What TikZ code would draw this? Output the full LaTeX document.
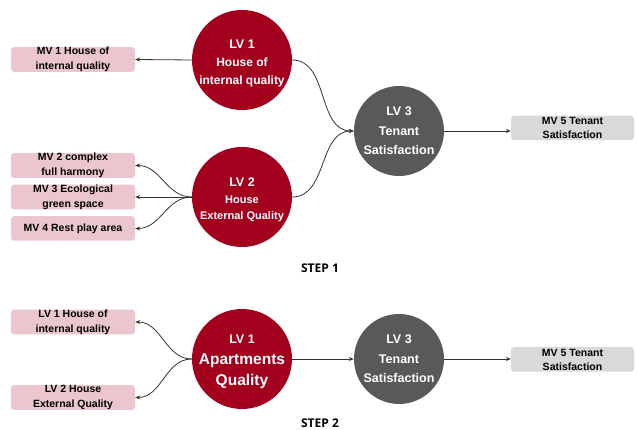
\documentclass[tikz,border=0pt]{standalone}
\usepackage{fontspec}
\setmainfont{Liberation Sans}
\newfontfamily\stepfont{Open Sans}
\usetikzlibrary{arrows.meta}
\definecolor{lvred}{HTML}{A2001D}
\definecolor{lvgrey}{HTML}{595959}
\definecolor{mvpink}{HTML}{EBC6CD}
\definecolor{mvgrey}{HTML}{D9D9D9}
\definecolor{arrowc}{HTML}{333333}
\tikzset{
  redlv/.style={circle, fill=lvred, minimum size=100pt, inner sep=0pt},
  lvtext/.style={inner sep=0pt, text=white, align=center},
  greylv/.style={circle, fill=lvgrey, minimum size=90pt, inner sep=0pt, text=white, align=center, font=\bfseries\fontsize{12.5}{19.5}\selectfont},
  pinkmv/.style={rectangle, rounded corners=3pt, fill=mvpink, minimum width=124pt, minimum height=24.5pt, inner sep=0pt, align=center, font=\bfseries\fontsize{10.5}{15}\selectfont},
  greymv/.style={rectangle, rounded corners=3pt, fill=mvgrey, minimum width=123pt, minimum height=24.5pt, inner sep=0pt, align=center, font=\bfseries\fontsize{10.5}{14}\selectfont},
  conn/.style={draw=arrowc, line width=0.8pt, -{Stealth[length=5pt,width=4pt]}},
  steplabel/.style={font=\stepfont\bfseries\fontsize{12}{14}\selectfont}
}
\begin{document}
\begin{tikzpicture}[x=1pt,y=-1pt]
\useasboundingbox (0,0) rectangle (638,430);
% STEP 1
\node[redlv] (lv1) at (242,60) {};
\node[lvtext, font=\bfseries\fontsize{12}{18}\selectfont] (lv1t) at ([yshift=-3pt]lv1.center) {{\fontsize{12.5}{18}\selectfont LV 1}\\House of\\internal quality};
\node[redlv] (lv2) at (242,197) {};
\node[lvtext, font=\bfseries\fontsize{11}{16}\selectfont] (lv2t) at ([yshift=-3pt]lv2.center) {{\fontsize{12.5}{17}\selectfont LV 2}\\[1pt]House\\External Quality};
\node[greylv] (lv3) at (399,131) {LV 3\\Tenant\\Satisfaction};
\node[pinkmv] (mv1) at (73,59.5) {MV 1 House of\\internal quality};
\node[pinkmv] (mv2) at (73,165.5) {MV 2 complex\\full harmony};
\node[pinkmv] (mv3) at (73,197) {MV 3 Ecological\\green space};
\node[pinkmv] (mv4) at (73,228.5) {MV 4 Rest play area};
\node[greymv] (mv5) at (572.5,128) {MV 5 Tenant\\Satisfaction};
\draw[conn] (lv1.west) -- (mv1.east);
\draw[conn] (lv2.west) to[out=180,in=0] (mv2.east);
\draw[conn] (lv2.west) -- (mv3.east);
\draw[conn] (lv2.west) to[out=180,in=0] (mv4.east);
\draw[conn] (lv1.east) to[out=0,in=180] (lv3.west);
\draw[conn] (lv2.east) to[out=0,in=180] (lv3.west);
\draw[conn] (lv3.east) -- (lv3.east -| mv5.west);
\node[steplabel] (s1) at (320,268) {STEP 1};
% STEP 2
\node[redlv] (alv1) at (242,359) {};
\node[lvtext, font=\bfseries\fontsize{15.5}{21}\selectfont] (alv1t) at ([yshift=-3pt]alv1.center) {{\fontsize{12.5}{20}\selectfont LV 1}\\Apartments\\Quality};
\node[greylv] (alv3) at (399,359) {LV 3\\Tenant\\Satisfaction};
\node[pinkmv] (alv1b) at (73,322) {LV 1 House of\\internal quality};
\node[pinkmv] (alv2b) at (73,397.5) {LV 2 House\\External Quality};
\node[greymv] (amv5) at (572.5,359.5) {MV 5 Tenant\\Satisfaction};
\draw[conn] (alv1.west) to[out=180,in=0] (alv1b.east);
\draw[conn] (alv1.west) to[out=180,in=0] (alv2b.east);
\draw[conn] (alv1.east) -- (alv3.west);
\draw[conn] (alv3.east) -- (alv3.east -| amv5.west);
\node[steplabel] (s2) at (320,423) {STEP 2};
\end{tikzpicture}
\end{document}
